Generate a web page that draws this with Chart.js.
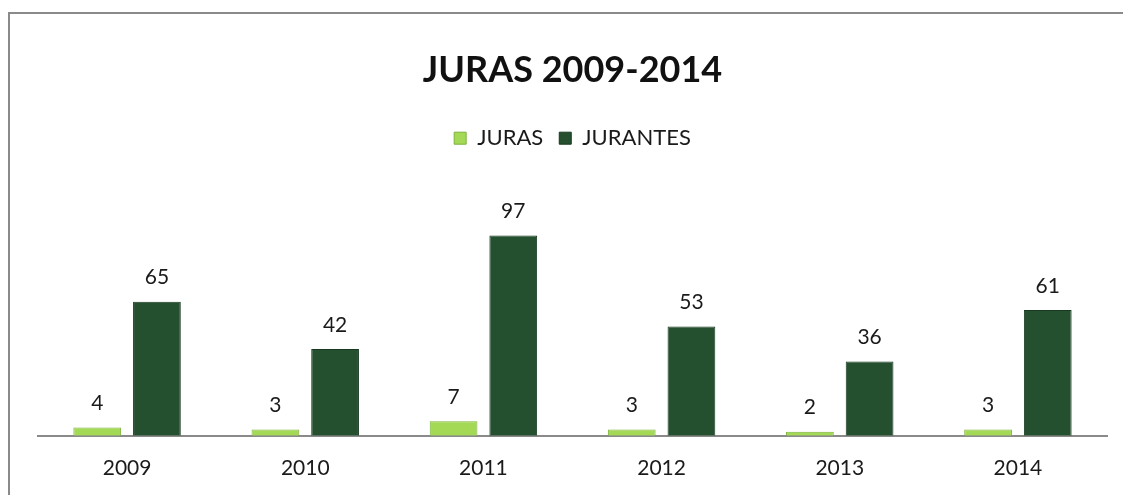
<!DOCTYPE html>
<html lang="pt">
<head>
<meta charset="UTF-8">
<script src="https://cdn.jsdelivr.net/npm/chart.js"></script>
<title>JURAS 2009-2014</title>
<style>
  body { margin: 0; background: #fff; }
  #frame { position: absolute; left: 8px; top: 12px; width: 1200px; height: 600px; border: 2px solid #8a8a8a; box-sizing: border-box; }
  #wrap { position: absolute; left: 0; top: 0; width: 1123px; height: 495px; }
</style>
</head>
<body>
<div id="frame"></div>
<div id="wrap"><canvas id="grafico" width="1123" height="495"></canvas></div>
<script>
const anos = ['2009', '2010', '2011', '2012', '2013', '2014'];
const juras = [4, 3, 7, 3, 2, 3];
const jurantes = [65, 42, 97, 53, 36, 61];

const fonte = 'Lato, "Open Sans", sans-serif';

// escreve o valor em cima de cada barra
const rotulos = {
  id: 'rotulos',
  afterDatasetsDraw(chart) {
    const ctx = chart.ctx;
    ctx.save();
    ctx.font = '21px ' + fonte;
    ctx.fillStyle = '#1a1a1a';
    ctx.textAlign = 'center';
    ctx.textBaseline = 'middle';
    chart.data.datasets.forEach(function (ds, i) {
      chart.getDatasetMeta(i).data.forEach(function (bar, j) {
        ctx.fillText(ds.data[j], bar.x, bar.y - 24);
      });
    });
    ctx.restore();
  }
};

new Chart(document.getElementById('grafico'), {
  type: 'bar',
  data: {
    labels: anos,
    datasets: [
      { label: 'JURAS', data: juras, backgroundColor: '#a3d955', borderColor: '#7cb33a', borderWidth: 1 },
      { label: 'JURANTES', data: jurantes, backgroundColor: '#25502f', borderColor: '#183a21', borderWidth: 1 }
    ]
  },
  options: {
    responsive: false,
    animation: false,
    categoryPercentage: 0.67,
    barPercentage: 0.8,
    layout: { padding: { left: 38, right: 16, top: 20, bottom: 2 } },
    scales: {
      y: { display: false, min: 0, max: 134 },
      x: {
        grid: { display: false },
        border: { color: '#8a8a8a', width: 2 },
        ticks: { color: '#1a1a1a', font: { size: 21, family: fonte }, padding: 12 }
      }
    },
    plugins: {
      title: {
        display: true,
        text: 'JURAS 2009-2014',
        color: '#111',
        font: { size: 36, weight: 'bold', family: fonte },
        padding: { top: 29, bottom: 19 }
      },
      legend: {
        labels: { boxWidth: 12, boxHeight: 12, color: '#1a1a1a', font: { size: 22, family: fonte }, padding: 16 }
      },
      tooltip: { enabled: false }
    }
  },
  plugins: [rotulos]
});
</script>
</body>
</html>
